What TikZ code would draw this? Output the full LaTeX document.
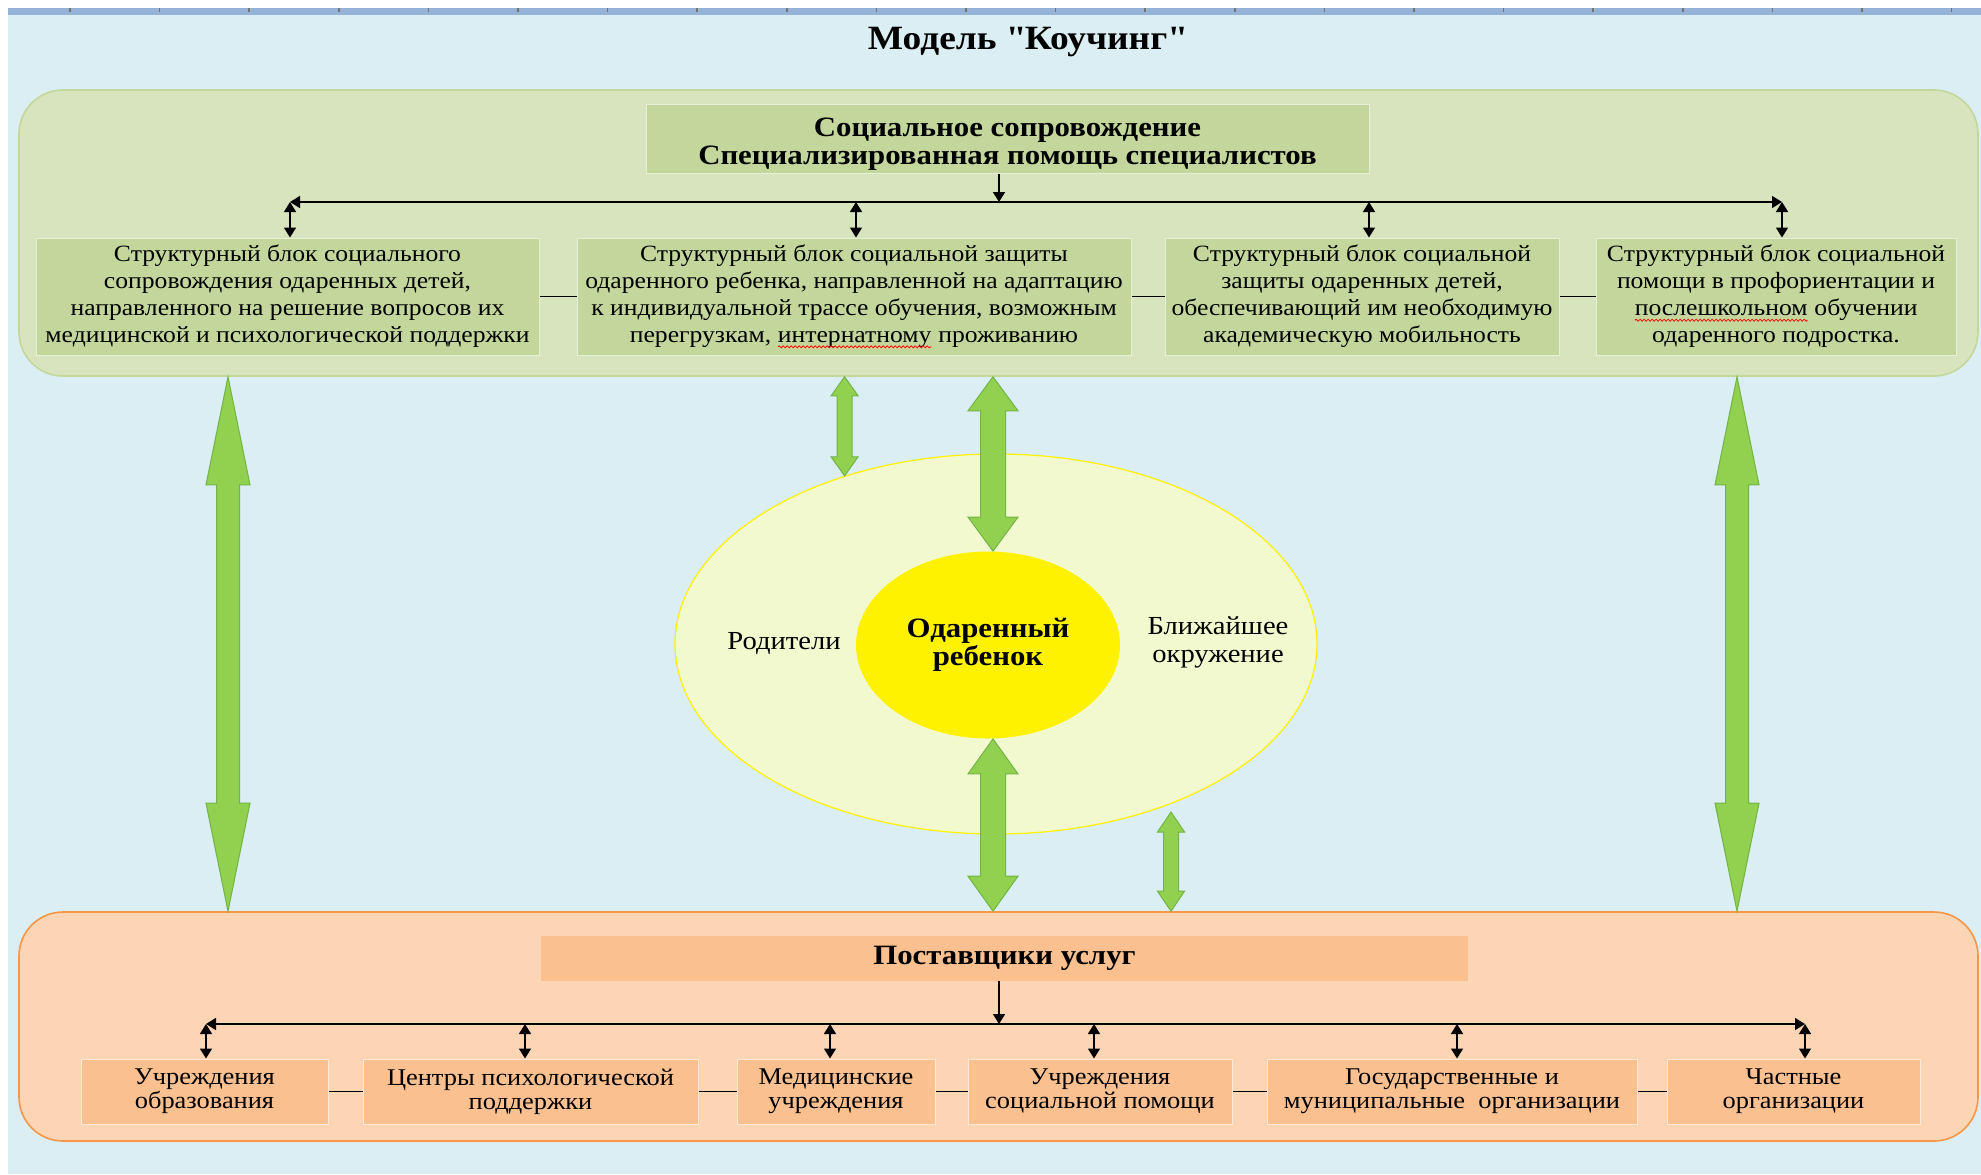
\documentclass[tikz,border=0pt]{standalone}
\usepackage{fontspec}
\setmainfont[FakeStretch=1.1]{Liberation Serif}
\usetikzlibrary{arrows.meta,shapes.geometric,calc,decorations.pathmorphing}

\definecolor{bgblue}{HTML}{DAEEF3}
\definecolor{rulerblue}{HTML}{95B3D7}
\definecolor{olivefill}{HTML}{D7E4BD}
\definecolor{oliveedge}{HTML}{C4D79B}
\definecolor{olivebox}{HTML}{C3D69B}
\definecolor{peachfill}{HTML}{FCD5B5}
\definecolor{peachedge}{HTML}{F79646}
\definecolor{peachbox}{HTML}{FAC090}
\definecolor{palecream}{HTML}{F2F9CE}
\definecolor{arrowgreen}{HTML}{92D050}
\definecolor{arrowedge}{HTML}{72B545}

\tikzstyle{region}=[rectangle, rounded corners=22pt, line width=0.8pt, inner sep=0pt]
\tikzstyle{topbox}=[rectangle, fill=olivebox, draw=olivefill!60!white, line width=0.5pt, align=center, inner sep=0pt, minimum height=58.5pt, font=\fontsize{11.65}{13.5}\selectfont]
\tikzstyle{provbox}=[rectangle, fill=peachbox, draw=peachfill!50!white, line width=0.5pt, align=center, inner sep=0pt, minimum height=32.5pt, font=\fontsize{12}{12}\selectfont]
\tikzstyle{headbox}=[rectangle, align=center, inner sep=0pt, font=\bfseries\fontsize{14}{14}\selectfont]
\tikzstyle{bus}=[draw, line width=0.8pt, -{Triangle[width=6pt,length=5pt]}]
\tikzstyle{link}=[draw, line width=0.8pt, {Triangle[width=6pt,length=5pt]}-{Triangle[width=6pt,length=5pt]}]
\tikzstyle{joint}=[draw, line width=0.6pt]
\tikzstyle{greenarrow}=[fill=arrowgreen, draw=arrowedge, line width=0.5pt]
\tikzstyle{plain}=[align=center, inner sep=0pt, font=\fontsize{13}{14}\selectfont]

% red spell-check wave under a word
\newcommand{\spellwave}[1]{\tikz[baseline=(w.base)]{\node[inner sep=0pt, outer sep=0pt, minimum width=0pt, minimum height=0pt, draw=none, fill=none] (w) {#1};
    \draw[red, line width=0.4pt, decorate, decoration={snake, amplitude=0.5pt, segment length=2pt}]
        ($(w.base west)+(0pt,-2.2pt)$) -- ($(w.base east)+(0pt,-2.2pt)$);}}

% double block arrow: top, bottom, half shaft, half head, head length (px)
\newcommand{\dblblock}[5]{%
  \path[greenarrow] let \p1=(#1), \p2=(#2) in
    (\x1,\y1) -- (\x1+#4*0.5pt,\y1-#5*0.5pt) -- (\x1+#3*0.5pt,\y1-#5*0.5pt)
    -- (\x1+#3*0.5pt,\y2+#5*0.5pt) -- (\x1+#4*0.5pt,\y2+#5*0.5pt) -- (\x1,\y2)
    -- (\x1-#4*0.5pt,\y2+#5*0.5pt) -- (\x1-#3*0.5pt,\y2+#5*0.5pt)
    -- (\x1-#3*0.5pt,\y1-#5*0.5pt) -- (\x1-#4*0.5pt,\y1-#5*0.5pt) -- cycle;}

\begin{document}
\begin{tikzpicture}[x=0.5pt, y=-0.5pt]

    \useasboundingbox (0,0) rectangle (1981,1174);
    \fill[white] (0,0) rectangle (1981,1174);
    \fill[bgblue] (8,8) rectangle (1981,1174);
    \fill[rulerblue] (8,8) rectangle (1981,15);
    \foreach \i in {0,...,21}
        \draw[black!55, line width=0.8pt] (70+89.6*\i,8) -- ++(0,4);

    \node[font=\bfseries\fontsize{17}{20}\selectfont] (title) at (1027,42) {Модель \textquotedbl Коучинг\textquotedbl};

    % social support block
    \node[region, fill=olivefill, draw=oliveedge, minimum width=979.5pt, minimum height=143pt] (soc) at (998.5,233) {};
    \node[headbox, fill=olivebox, draw=olivefill!60!white, line width=0.5pt, minimum width=361.5pt, minimum height=34.5pt] (socHead) at (1007.5,138.5)
        {\rule{0pt}{15pt}Социальное сопровождение\\Специализированная помощь специалистов};

    \foreach \x/\w/\name/\txt in {
        287.5/503/blk1/{Структурный блок социального\\сопровождения одаренных детей,\\направленного на решение вопросов их\\медицинской и психологической поддержки},
        854/554/blk2/{Структурный блок социальной защиты\\одаренного ребенка, направленной на адаптацию\\к индивидуальной трассе обучения, возможным\\перегрузкам, \spellwave{интернатному} проживанию},
        1362/394/blk3/{Структурный блок социальной\\защиты одаренных детей,\\обеспечивающий им необходимую\\академическую мобильность},
        1776/360/blk4/{Структурный блок социальной\\помощи в профориентации и\\\spellwave{послешкольном} обучении\\одаренного подростка.}}
        \node[topbox, minimum width=\w*0.5pt] (\name) at (\x,296.5) {\txt};

    \foreach \a/\b in {blk1/blk2, blk2/blk3, blk3/blk4}
        \draw[joint] (\a.east) -- (\b.west);

    \coordinate (topbus) at (999,202);
    \draw[bus] (socHead.south -| topbus) -- (topbus);
    \coordinate (drop) at (290,0);
    \draw[bus] (topbus) -- (topbus -| drop);
    \coordinate (drop) at (1782,0);
    \draw[bus] (topbus) -- (topbus -| drop);
    \foreach \name/\ax in {blk1/290, blk2/856, blk3/1369, blk4/1782}{
        \coordinate (drop) at (\ax,0);
        \draw[link] (topbus -| drop) -- (\name.north -| drop);
    }

    % service providers block
    \node[region, fill=peachfill, draw=peachedge, minimum width=979.5pt, minimum height=114.5pt] (prov) at (998.5,1026.5) {};
    \node[headbox, fill=peachbox, minimum width=463.5pt, minimum height=22.5pt] (provHead) at (1004.5,958.5) {Поставщики услуг};

    \foreach \x/\w/\name/\txt in {
        204.5/247/org1/{Учреждения\\образования},
        530.5/335/org2/{Центры психологической\\поддержки},
        836/198/org3/{Медицинские\\учреждения},
        1100/264/org4/{Учреждения\\социальной помощи},
        1452/370/org5/{Государственные и\\муниципальные~~организации},
        1793.5/253/org6/{Частные\\организации}}
        \node[provbox, minimum width=\w*0.5pt] (\name) at (\x,1091.5) {\txt};

    \foreach \a/\b in {org1/org2, org2/org3, org3/org4, org4/org5, org5/org6}
        \draw[joint] (\a.east) -- (\b.west);

    \coordinate (lowbus) at (999,1024);
    \draw[bus] (provHead.south -| lowbus) -- (lowbus);
    \coordinate (drop) at (206,0);
    \draw[bus] (lowbus) -- (lowbus -| drop);
    \coordinate (drop) at (1805,0);
    \draw[bus] (lowbus) -- (lowbus -| drop);
    \foreach \name/\ax in {org1/206, org2/525, org3/830, org4/1094, org5/1457, org6/1805}{
        \coordinate (drop) at (\ax,0);
        \draw[link] (lowbus -| drop) -- (\name.north -| drop);
    }

    % family circle
    \node[ellipse, fill=palecream, draw=yellow, line width=0.6pt, minimum width=321pt, minimum height=190pt, inner sep=0pt] (env) at (996,644) {};
    \node[ellipse, fill=yellow, minimum width=132pt, minimum height=93.5pt, inner sep=0pt, align=center, font=\bfseries\fontsize{14}{13}\selectfont] (child) at (988,645) {Одаренный\\ребенок};
    \node[plain] (parents) at (784,643) {Родители};
    \node[plain] (near) at (1218,642) {Ближайшее\\окружение};

    % green block arrows
    \coordinate (leftway) at (228,0);
    \coordinate (rightway) at (1737,0);
    \coordinate (centreline) at (993,0);
    \coordinate (envbr) at (1171,812);
    \dblblock{soc.south -| leftway}{prov.north -| leftway}{11.5}{22}{108}
    \dblblock{soc.south -| rightway}{prov.north -| rightway}{11.5}{22}{108}
    \dblblock{soc.south -| centreline}{child.north -| centreline}{12.5}{25}{34}
    \dblblock{child.south -| centreline}{prov.north -| centreline}{12.5}{25}{35}
    \dblblock{soc.south -| env.132.5}{env.132.5}{7.5}{13.5}{19}
    \dblblock{envbr}{prov.north -| envbr}{7.5}{13.5}{20}

\end{tikzpicture}
\end{document}
